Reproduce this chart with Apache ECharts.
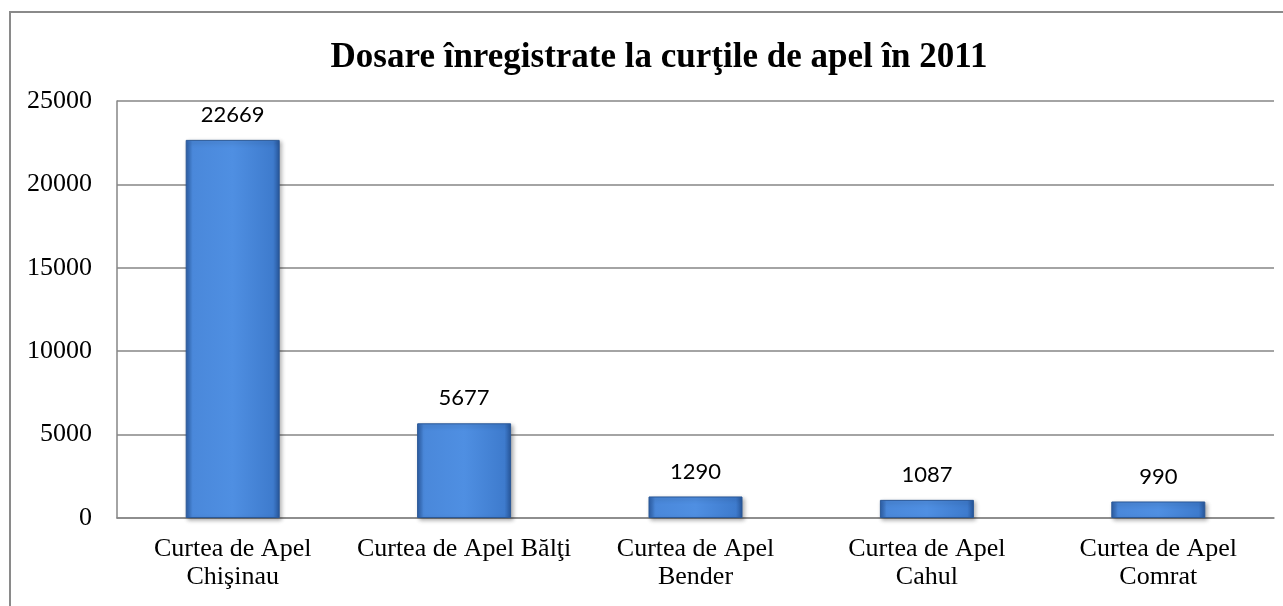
<!DOCTYPE html>
<html>
<head>
<meta charset="utf-8">
<script src="https://cdn.jsdelivr.net/npm/echarts@6/dist/echarts.min.js"></script>
<style>
  html, body { margin: 0; padding: 0; background: #fff; }
  #chart { width: 1283px; height: 606px; }
</style>
</head>
<body>
<div id="chart"></div>
<script>
// data
const chartTitle = 'Dosare înregistrate la curţile de apel în 2011';
const courts = [
  'Curtea de Apel\nChişinau',
  'Curtea de Apel Bălţi',
  'Curtea de Apel\nBender',
  'Curtea de Apel\nCahul',
  'Curtea de Apel\nComrat'
];
const dosare = [22669, 5677, 1290, 1087, 990];
const yMax = 25000;
const yStep = 5000;

const chart = echarts.init(document.getElementById('chart'));

// bevel-ish look of the office bars: darker at the edges, lighter in the middle
const barFill = new echarts.graphic.LinearGradient(0, 0, 1, 0, [
  { offset: 0, color: '#2c5ea6' },
  { offset: 0.07, color: '#4a88da' },
  { offset: 0.5, color: '#4f8fe2' },
  { offset: 0.93, color: '#3e7bcd' },
  { offset: 1, color: '#27569a' }
]);

chart.setOption({
  animation: false,
  backgroundColor: '#fff',
  title: {
    text: chartTitle,
    left: 654,
    textAlign: 'center',
    top: 35,
    textStyle: {
      fontFamily: 'Liberation Serif',
      fontWeight: 'bold',
      fontSize: 35,
      color: '#000'
    }
  },
  graphic: [
    {
      type: 'rect',
      shape: { x: 10, y: 12, width: 1300, height: 700 },
      style: { fill: 'none', stroke: '#8a8a8a', lineWidth: 2 },
      silent: true
    }
  ],
  grid: {
    left: 117,
    right: 9,
    top: 101,
    bottom: 88
  },
  xAxis: {
    type: 'category',
    data: courts,
    axisTick: { show: false },
    axisLine: { lineStyle: { color: '#868686', width: 1.5 } },
    axisLabel: {
      interval: 0,
      margin: 17,
      fontFamily: 'Liberation Serif',
      fontSize: 26,
      lineHeight: 28,
      color: '#000'
    }
  },
  yAxis: {
    type: 'value',
    min: 0,
    max: yMax,
    interval: yStep,
    axisLine: { show: true, lineStyle: { color: '#868686', width: 1.5 } },
    axisTick: { show: false },
    splitLine: { lineStyle: { color: '#868686', width: 1.5 } },
    axisLabel: {
      margin: 25,
      fontFamily: 'Liberation Serif',
      fontSize: 26,
      color: '#000',
      formatter: (v) => String(v)
    }
  },
  series: [
    {
      type: 'bar',
      data: dosare,
      barWidth: 94,
      itemStyle: {
        color: barFill,
        borderColor: '#2a5897',
        borderWidth: 1,
        shadowColor: 'rgba(0,0,0,0.3)',
        shadowBlur: 4,
        shadowOffsetX: 2,
        shadowOffsetY: 2
      },
      label: {
        show: true,
        position: 'top',
        distance: 14,
        fontFamily: 'Lato',
        fontSize: 22,
        color: '#000'
      }
    }
  ]
});
</script>
</body>
</html>
